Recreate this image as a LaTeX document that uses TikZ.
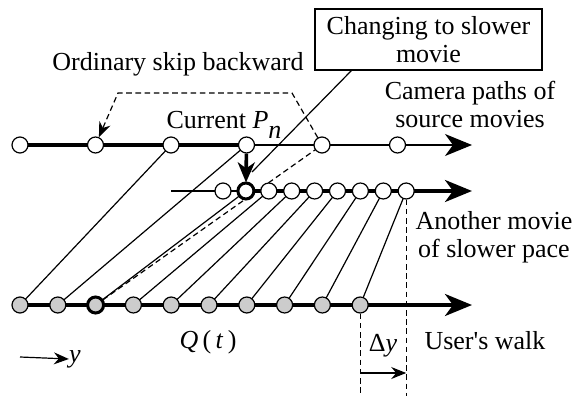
\documentclass[tikz,border=0pt]{standalone}
\usepackage{fontspec}
\setmainfont{Liberation Serif}
\usetikzlibrary{
  positioning,
  arrows.meta,
  calc,
  backgrounds
}
\tikzset{
  >=Stealth,
  thinline/.style={line width=0.6pt},
  thickline/.style={line width=1.8pt},
  dashline/.style={line width=0.6pt,dash pattern=on 2.8pt off 1.8pt},
  bigarrow/.style={-{Stealth[length=13.5pt,width=11pt,inset=4pt]}},
  smallarrow/.style={-{Stealth[length=7.5pt,width=6pt,inset=2.5pt]}},
  frame/.style={circle,draw,fill=white,line width=0.6pt,minimum size=8pt,inner sep=0pt},
  walkpt/.style={frame,fill=gray!40},
  boldpt/.style={line width=1.5pt},
  lbl/.style={align=center,font=\fontsize{13}{14}\selectfont,inner sep=0pt}
}

\begin{document}
\begin{tikzpicture}[x=0.5pt,y=-0.5pt]
    \useasboundingbox (0,0) rectangle (579,396);

    % Kamerapfade der Quellfilme (oben)
    \foreach \i in {0,...,5} \node[frame] (p\i) at (20+75.5*\i,145) {};
    % langsamerer Film (Mitte)
    \foreach \i in {0,...,8} \node[frame] (m\i) at (223+22.9*\i,191) {};
    \node[frame,boldpt] at (m1) {};
    % Weg des Nutzers (unten)
    \foreach \i in {0,...,9} \node[walkpt] (q\i) at (20+37.8*\i,305) {};
    \node[walkpt,boldpt] at (q2) {};

    % Enden der Achsen
    \coordinate (endtop) at (472,145);
    \coordinate (endmid) at (472,191);
    \coordinate (endbot) at (472,305);
    \coordinate (midstart) at (171,191);
    \coordinate (base) at (0,396);
    \coordinate (dyrow) at (0,373);
    \coordinate (callend) at (252,172);

    % Texte
    \node[lbl] (skip) at (178,64) {Ordinary skip backward};
    \node[draw,thinline,lbl,minimum width=113.5pt,minimum height=30.5pt] (chg) at (428.5,39.5) {Changing to slower\\movie};
    \node[lbl] (cur) at (224,125) {Current \textit{P}\raisebox{-5pt}{\textit{n}}};
    \node[lbl] (cam) at (470,104) {Camera paths of\\source movies};
    \node[lbl] (slow) at (494,237) {Another movie\\of slower pace};
    \node[lbl] (walk) at (485,341) {User\textquotesingle s walk};
    \node[lbl] (qt) at (208,342) {\textit{Q}\,(\,\textit{t}\,)};
    \node[lbl] (yy) at (75,359) {\textit{y}};
    \node[lbl] (dy) at (383,346) {Δ\textit{y}};

    \begin{pgfonlayer}{background}
      % Achsen
      \draw[thickline] (p0.center) -- (p3.center);
      \draw[thinline,bigarrow] (p3.center) -- (endtop);
      \draw[thinline] (midstart) -- (m1.center);
      \draw[thickline,bigarrow] (m1.center) -- (endmid);
      \draw[thickline,bigarrow] (q0.center) -- (endbot);
      % Zuordnungen
      \draw[thinline] (q0.center) -- (p2.center);
      \draw[thinline] (q1.center) -- (p3.center);
      \foreach \i [evaluate=\i as \j using int(\i-1)] in {2,...,9}
        \draw[thinline] (q\i.center) -- (m\j.center);
      \draw[dashline] (q2.center) -- (p4.center);
    \end{pgfonlayer}

    % Sprung und Wechsel
    \draw[dashline,smallarrow] (p4) -- (292,93) -- (118,93) -- (p1);
    \draw[thickline,-{Stealth[length=10pt,width=8.5pt,inset=3pt]}] (p3) -- (m1);
    \draw[thinline] ([xshift=18.5pt]chg.south west) -- (callend);

    % Delta y
    \draw[dashline] (m8.south) -- (m8 |- base);
    \draw[dashline] (q9.south) -- (q9 |- base);
    \draw[thinline,smallarrow] (q9 |- dyrow) -- (m8 |- dyrow);
    \draw[thinline,smallarrow] (20,357) -- (yy.west);
\end{tikzpicture}
\end{document}
